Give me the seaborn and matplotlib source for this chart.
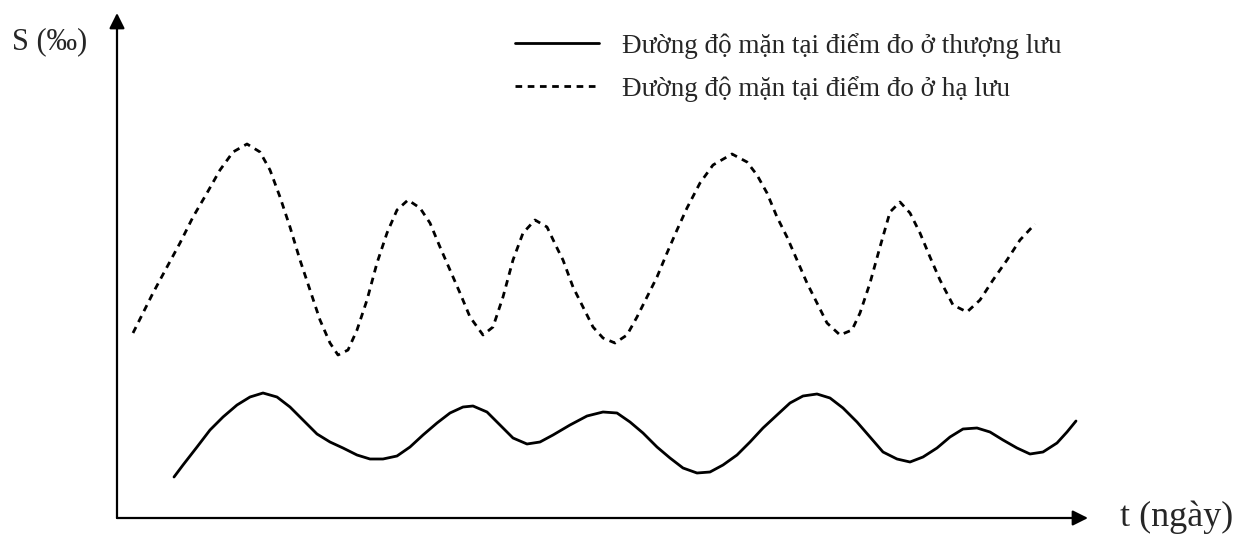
import pandas as pd
import seaborn as sns
import matplotlib
matplotlib.use("Agg")
import matplotlib.pyplot as plt

# t (ngay) and S (permil) (arbitrary units)
t_ha = [1.6, 2.6, 3.6, 5.0, 6.3, 7.6, 9.0, 10.3, 11.6, 13.0, 14.3, 15.3, 16.3, 17.3,
        18.3, 19.3, 20.3, 21.3, 22.1, 23.1, 24.0, 25.0, 26.0, 27.0, 28.0, 29.1, 30.3,
        31.3, 32.3, 33.3, 34.3, 35.3, 36.6, 37.6, 38.6, 39.6, 40.6, 41.8, 43.0, 44.1,
        44.6, 45.6, 46.6, 47.6, 48.6, 49.8, 51.0, 52.0, 53.0, 54.0, 55.0, 56.0, 57.0,
        58.3, 59.6, 61.5, 63.0, 64.0, 65.0, 66.0, 67.0, 68.0, 69.0, 70.0, 71.0, 72.3,
        73.5, 74.3, 75.3, 76.3, 77.3, 78.3, 79.3, 80.3, 81.3, 82.3, 83.6, 85.0, 86.3,
        87.6, 89.0, 90.3, 91.8]
s_ha = [18.5, 20.5, 22.5, 25.1, 27.5, 30.1, 32.5, 34.8, 36.6, 37.4, 36.6, 34.8, 32.1, 29.1,
        25.8, 22.8, 19.8, 17.5, 16.3, 16.8, 18.8, 21.8, 25.5, 28.5, 30.8, 31.8, 31.0,
        29.5, 27.1, 24.8, 22.5, 20.1, 18.3, 19.1, 22.1, 25.8, 28.5, 29.8, 29.1, 26.8,
        25.8, 23.1, 21.1, 19.1, 18.0, 17.5, 18.3, 20.1, 22.1, 24.1, 26.5, 28.8, 31.0,
        33.5, 35.3, 36.4, 35.6, 34.3, 32.5, 30.1, 28.1, 25.8, 23.5, 21.5, 19.5, 18.3,
        18.8, 20.5, 23.5, 27.1, 30.6, 31.6, 30.5, 28.5, 26.1, 23.8, 21.3, 20.6, 21.8,
        23.8, 25.8, 27.8, 29.4]

t_thuong = [5.7, 6.6, 8.0, 9.3, 10.6, 12.0, 13.3, 14.6, 16.0, 17.3, 18.6, 20.0, 21.3, 22.6,
            24.0, 25.3, 26.6, 28.0, 29.3, 30.6, 32.0, 33.3, 34.6, 35.6, 37.0, 38.3, 39.6,
            41.0, 42.3, 43.6, 45.3, 47.0, 48.6, 50.0, 51.3, 52.6, 54.0, 55.3, 56.6, 58.0,
            59.3, 60.6, 62.0, 63.3, 64.6, 66.0, 67.3, 68.6, 70.0, 71.3, 72.6, 74.0, 75.3,
            76.6, 78.0, 79.3, 80.6, 82.0, 83.3, 84.6, 86.0, 87.3, 88.6, 90.0, 91.3, 92.6,
            94.0, 95.0, 95.9]
s_thuong = [4.1, 5.3, 7.1, 8.8, 10.1, 11.3, 12.1, 12.5, 12.1, 11.1, 9.8, 8.4, 7.6, 7.0,
            6.3, 5.9, 5.9, 6.2, 7.1, 8.3, 9.5, 10.5, 11.1, 11.2, 10.6, 9.3, 8.0,
            7.4, 7.6, 8.3, 9.3, 10.2, 10.6, 10.5, 9.6, 8.5, 7.1, 6.0, 5.0, 4.5,
            4.6, 5.3, 6.3, 7.6, 9.0, 10.3, 11.5, 12.2, 12.4, 12.0, 11.0, 9.6, 8.1,
            6.6, 5.9, 5.6, 6.1, 7.0, 8.1, 8.9, 9.0, 8.6, 7.8, 7.0, 6.4, 6.6,
            7.5, 8.6, 9.7]

label_thuong = "Đường độ mặn tại điểm đo ở thượng lưu"
label_ha = "Đường độ mặn tại điểm đo ở hạ lưu"

sns.set_style("white")
plt.rcParams["font.family"] = ["Liberation Serif", "DejaVu Serif"]

fig = plt.figure(figsize=(12.41, 5.44), dpi=100)
ax = fig.add_axes([117 / 1241, 26 / 544, 971 / 1241, 505 / 544])

df_thuong = pd.DataFrame({"t": t_thuong, "S": s_thuong})
df_ha = pd.DataFrame({"t": t_ha, "S": s_ha})

sns.lineplot(data=df_thuong, x="t", y="S", ax=ax, color="black", lw=2.0,
             label=label_thuong, sort=False)
sns.lineplot(data=df_ha, x="t", y="S", ax=ax, color="black", lw=2.0,
             label=label_ha, sort=False)
ax.lines[0].set_solid_joinstyle("round")
ax.lines[1].set_dashes((2.4, 2.0))

ax.set_xlim(0, 97.1)
ax.set_ylim(0, 50.5)
ax.set_xticks([])
ax.set_yticks([])
ax.set_xlabel("")
ax.set_ylabel("")
for sp in ax.spines.values():
    sp.set_visible(False)

# axes with arrow heads
arrow = dict(arrowstyle="-|>", color="black", lw=1.6, mutation_scale=23,
             shrinkA=0, shrinkB=0)
ax.annotate("", xy=(1, 0), xytext=(0, 0), xycoords="axes fraction", arrowprops=arrow)
ax.annotate("", xy=(0, 1), xytext=(0, 0), xycoords="axes fraction", arrowprops=arrow)

fig.text(12 / 1241, 1 - 42 / 544, "S (‰)", fontsize=22, ha="left", va="center")
fig.text(1120 / 1241, 1 - 517 / 544, "t (ngày)", fontsize=26, ha="left", va="center")

leg = ax.legend(loc="upper left", bbox_to_anchor=(515 / 1241, 1 - 33 / 544),
                bbox_transform=fig.transFigure, frameon=False, fontsize=19.5,
                handlelength=3.1, handletextpad=0.85, labelspacing=0.62,
                borderpad=0, borderaxespad=0)
leg.get_lines()[1].set_dashes((2.4, 2.0))

fig.savefig("out.png", dpi=100)
